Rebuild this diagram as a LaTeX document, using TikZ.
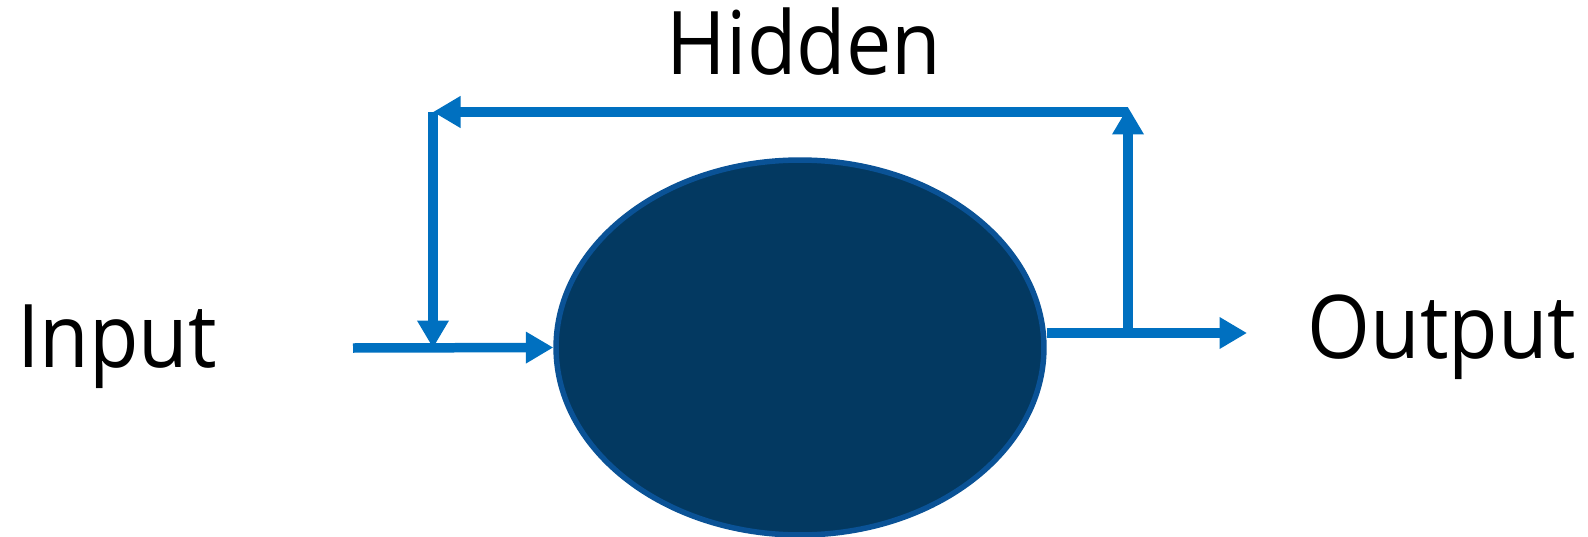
\documentclass[tikz,border=0pt]{standalone}
\usepackage{fontspec}
\setmainfont{Open Sans}[FakeStretch=0.92]
\usetikzlibrary{arrows.meta,shapes.geometric}
\definecolor{flowblue}{RGB}{0,112,192}
\definecolor{cellfill}{RGB}{3,57,97}
\definecolor{cellline}{RGB}{10,82,150}
\tikzset{
	flow/.style={flowblue, line width=0.19cm, -{Triangle[length=0.55cm,width=0.6cm]}},
	word/.style={font=\fontsize{50}{56}\selectfont, inner sep=0, anchor=base}
}

\begin{document}
\begin{tikzpicture}[x=0.02cm,y=-0.02cm]
\useasboundingbox (0,0) rectangle (1588,537);

\node[ellipse, draw=cellline, line width=0.11cm, fill=cellfill, minimum width=9.76cm, minimum height=7.5cm, inner sep=0] (rnn) at (800,347.5) {};
\node[word] (input) at (117,367) {Input};
\node[word] (hidden) at (804,75) {Hidden};
\node[word] (output) at (1442,358) {Output};

\coordinate (inStart) at (353,348);
\coordinate (inSplit) at (433,348);
\coordinate (topLeft) at (433,112);
\coordinate (topRight) at (1128,112);
\coordinate (upTip) at (1128,107);
\coordinate (outSplit) at (1128,333);
\coordinate (outEnd) at (1247,333);

\draw[flow] (inStart) -- (rnn.west);
\draw[flow] (rnn.east |- outSplit) -- (outEnd);
\draw[flow] (outSplit) -- (upTip);
\draw[flow] (topRight) -- (topLeft);
\draw[flow] (topLeft) -- (inSplit);

\end{tikzpicture}
\end{document}
